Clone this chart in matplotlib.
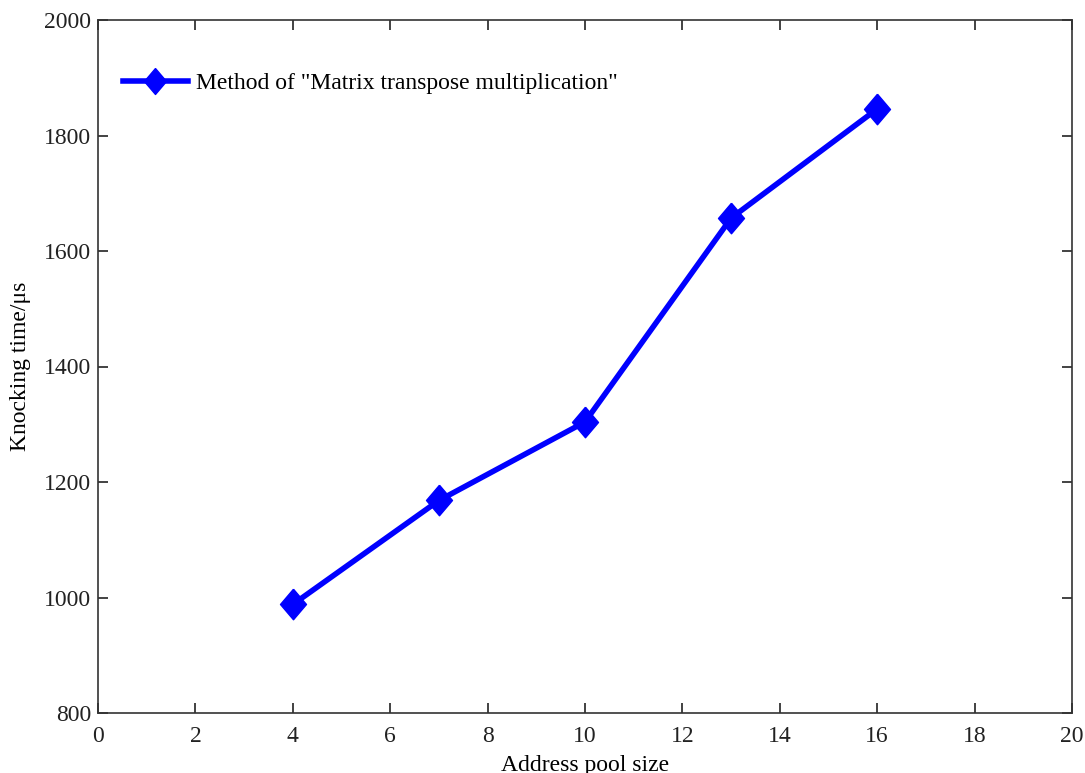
import matplotlib.pyplot as plt

# === Data ===
pool_size = [4, 7, 10, 13, 16]
knock_time = [988, 1168, 1304, 1657, 1846]
series_label = 'Method of "Matrix transpose multiplication"'

plt.rcParams['font.family'] = ['Liberation Serif', 'DejaVu Serif']

# MATLAB-like diamond, a bit taller than wide
diamond = [(0, 1), (0.85, 0), (0, -1), (-0.85, 0), (0, 1)]

fig = plt.figure(figsize=(10.85, 7.73), dpi=100)
ax = fig.add_axes([98 / 1085, 1 - 713 / 773, (1072 - 98) / 1085, (713 - 20) / 773])

ax.plot(pool_size, knock_time, color="#0000ff", linewidth=4.0, marker=diamond,
        markersize=22, label=series_label)

ax.set_xlim(0, 20)
ax.set_ylim(800, 2000)
ax.set_xticks(range(0, 21, 2))
ax.set_yticks(range(800, 2001, 200))
ax.tick_params(direction="in", length=7, width=1.2, top=True, right=True,
               labelsize=17, colors="#222222")
ax.tick_params(axis="x", pad=9)
ax.tick_params(axis="y", pad=5)
for s in ax.spines.values():
    s.set_linewidth(1.2)
    s.set_color("#333333")

ax.set_xlabel("Address pool size", fontsize=17, labelpad=6)
ax.set_ylabel("Knocking time/μs", fontsize=17, labelpad=9)

ax.legend(loc="center left", frameon=False, fontsize=17, handlelength=2.75,
          bbox_to_anchor=(0.0257, 0.909), borderaxespad=0, borderpad=0,
          handletextpad=0.35, markerscale=0.85)

plt.savefig("out.png", dpi=100)
